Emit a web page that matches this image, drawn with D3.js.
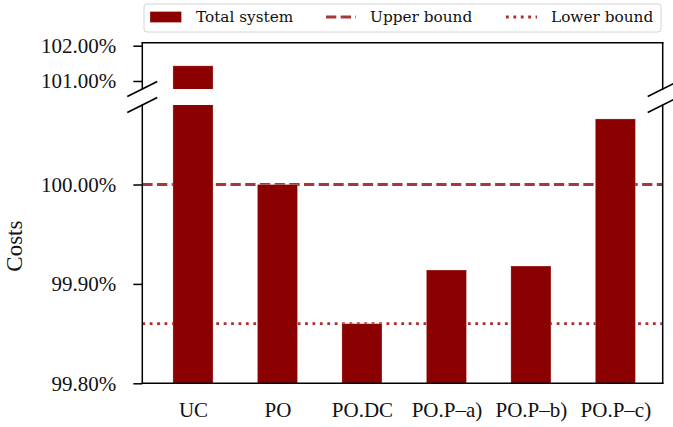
<!DOCTYPE html>
<html><head><meta charset="utf-8">
<script src="https://cdn.jsdelivr.net/npm/d3@7"></script>
<style>
html,body{margin:0;padding:0;background:#fff;}
svg{display:block;}
</style></head>
<body>
<svg id="chart" width="673" height="427"></svg>
<script>
// ---- data ----
const categories = ["UC", "PO", "PO.DC", "PO.P\u2013a)", "PO.P\u2013b)", "PO.P\u2013c)"];
const totalSystem = [101.43, 100.00, 99.86, 99.914, 99.918, 100.066];
const upperBound = 100.00;
const lowerBound = 99.86;
const topTicks = [101, 102];
const bottomTicks = [99.80, 99.90, 100.00];
const legendLabels = ["Total system", "Upper bound", "Lower bound"];

// ---- layout ----
const svg = d3.select("#chart");
const L = 142.3, R = 662.7;
const topPanel = {y0: 42.7, y1: 89};
const botPanel = {y0: 105, y1: 383.3};
const barColor = "#8b0000";
const upperColor = "#a83838";
const lowerColor = "#b02c2c";
const tickFont = "'Liberation Serif', 'Times New Roman', serif";
const legendFont = "'DejaVu Serif', serif";

const x = d3.scaleLinear().domain([-0.6, 5.56]).range([L, R]);
const barW = 0.475;
const yTop = d3.scaleLinear().domain([100.773, 102.085]).range([topPanel.y1, topPanel.y0]);
const yBot = d3.scaleLinear().domain([99.80, 100.08]).range([botPanel.y1, botPanel.y0]);
const fmt = v => d3.format(".2f")(v) + "%";

const defs = svg.append("defs");
defs.append("clipPath").attr("id", "clipTop").append("rect")
  .attr("x", L).attr("y", topPanel.y0).attr("width", R - L).attr("height", topPanel.y1 - topPanel.y0);
defs.append("clipPath").attr("id", "clipBot").append("rect")
  .attr("x", L).attr("y", botPanel.y0).attr("width", R - L).attr("height", botPanel.y1 - botPanel.y0);

const data = categories.map((c, i) => ({c, i, v: totalSystem[i]}));

// ---- bottom panel ----
const gBot = svg.append("g").attr("clip-path", "url(#clipBot)");
gBot.append("line")
  .attr("x1", L).attr("x2", R).attr("y1", yBot(upperBound)).attr("y2", yBot(upperBound))
  .attr("stroke", upperColor).attr("stroke-width", 2.8).attr("stroke-dasharray", "10.3,4.4");
gBot.append("line")
  .attr("x1", L).attr("x2", R).attr("y1", yBot(lowerBound)).attr("y2", yBot(lowerBound))
  .attr("stroke", lowerColor).attr("stroke-width", 2.8).attr("stroke-dasharray", "2.8,4.6");
gBot.selectAll("rect.bar").data(data).join("rect").attr("class", "bar")
  .attr("x", d => x(d.i - barW / 2))
  .attr("width", d => x(d.i + barW / 2) - x(d.i - barW / 2))
  .attr("y", d => yBot(Math.min(d.v, 100.2)))
  .attr("height", d => yBot(99.80) - yBot(Math.min(d.v, 100.2)))
  .attr("fill", barColor).attr("stroke", "rgba(255,255,255,0.35)").attr("stroke-width", 0.8);

// ---- top panel ----
const gTop = svg.append("g").attr("clip-path", "url(#clipTop)");
gTop.selectAll("rect.bar").data(data.filter(d => d.v > 100.773)).join("rect").attr("class", "bar")
  .attr("x", d => x(d.i - barW / 2))
  .attr("width", d => x(d.i + barW / 2) - x(d.i - barW / 2))
  .attr("y", d => yTop(d.v))
  .attr("height", d => yTop(100.6) - yTop(d.v))
  .attr("fill", barColor).attr("stroke", "rgba(255,255,255,0.35)").attr("stroke-width", 0.8);

// ---- axes ----
function styleAxis(g) {
  g.select(".domain").remove();
  g.selectAll(".tick line").attr("stroke", "#000").attr("stroke-width", 1.5);
  g.selectAll(".tick text").attr("font-family", tickFont).attr("font-size", 21).attr("fill", "#111");
}
svg.append("g").attr("transform", `translate(${L},0)`)
  .call(d3.axisLeft(yTop).tickValues(topTicks).tickFormat(fmt).tickSize(9).tickPadding(17))
  .call(styleAxis);
svg.append("g").attr("transform", `translate(${L},0)`)
  .call(d3.axisLeft(yBot).tickValues(bottomTicks).tickFormat(fmt).tickSize(9).tickPadding(17))
  .call(styleAxis);
svg.append("g").attr("transform", `translate(0,${botPanel.y1})`)
  .call(d3.axisBottom(x).tickValues(d3.range(categories.length)).tickFormat(i => categories[i]).tickSize(0).tickPadding(19))
  .call(styleAxis);

// spines
const spine = (x1, y1, x2, y2) => svg.append("line")
  .attr("x1", x1).attr("y1", y1).attr("x2", x2).attr("y2", y2)
  .attr("stroke", "#000").attr("stroke-width", 1.5).attr("stroke-linecap", "square");
spine(L, topPanel.y0, R, topPanel.y0);
spine(L, topPanel.y0, L, topPanel.y1);
spine(R, topPanel.y0, R, topPanel.y1);
spine(L, botPanel.y0, L, botPanel.y1);
spine(R, botPanel.y0, R, botPanel.y1);
spine(L, botPanel.y1, R, botPanel.y1);

// break marks
[[L, topPanel.y1], [R, topPanel.y1], [L, botPanel.y0], [R, botPanel.y0]].forEach(([cx, cy]) => {
  svg.append("line")
    .attr("x1", cx - 15).attr("y1", cy + 7.5).attr("x2", cx + 15).attr("y2", cy - 7.5)
    .attr("stroke", "#000").attr("stroke-width", 1.6);
});

// y label
svg.append("text")
  .attr("transform", `translate(22,${(botPanel.y0 + botPanel.y1) / 2 + 2}) rotate(-90)`)
  .attr("text-anchor", "middle")
  .attr("font-family", tickFont).attr("font-size", 23).attr("fill", "#111")
  .text("Costs");

// ---- legend ----
const lg = svg.append("g");
lg.append("rect").attr("x", 144).attr("y", 4).attr("width", 517).attr("height", 28).attr("rx", 3)
  .attr("fill", "#fff").attr("fill-opacity", 0.85).attr("stroke", "#d4d4d4").attr("stroke-width", 1);
lg.append("rect").attr("x", 150).attr("y", 11.5).attr("width", 31.5).attr("height", 11)
  .attr("fill", barColor).attr("stroke", "rgba(255,255,255,0.35)").attr("stroke-width", 0.8);
lg.append("line").attr("x1", 326).attr("x2", 356).attr("y1", 17).attr("y2", 17)
  .attr("stroke", upperColor).attr("stroke-width", 2.8).attr("stroke-dasharray", "10.3,4.4");
lg.append("line").attr("x1", 506).attr("x2", 537).attr("y1", 17).attr("y2", 17)
  .attr("stroke", lowerColor).attr("stroke-width", 2.8).attr("stroke-dasharray", "2.8,4.6");
const lx = [196, 370, 551];
legendLabels.forEach((t, i) => {
  lg.append("text").attr("x", lx[i]).attr("y", 22)
    .attr("font-family", legendFont).attr("font-size", 15.3).attr("fill", "#111").text(t);
});
</script>
</body></html>
